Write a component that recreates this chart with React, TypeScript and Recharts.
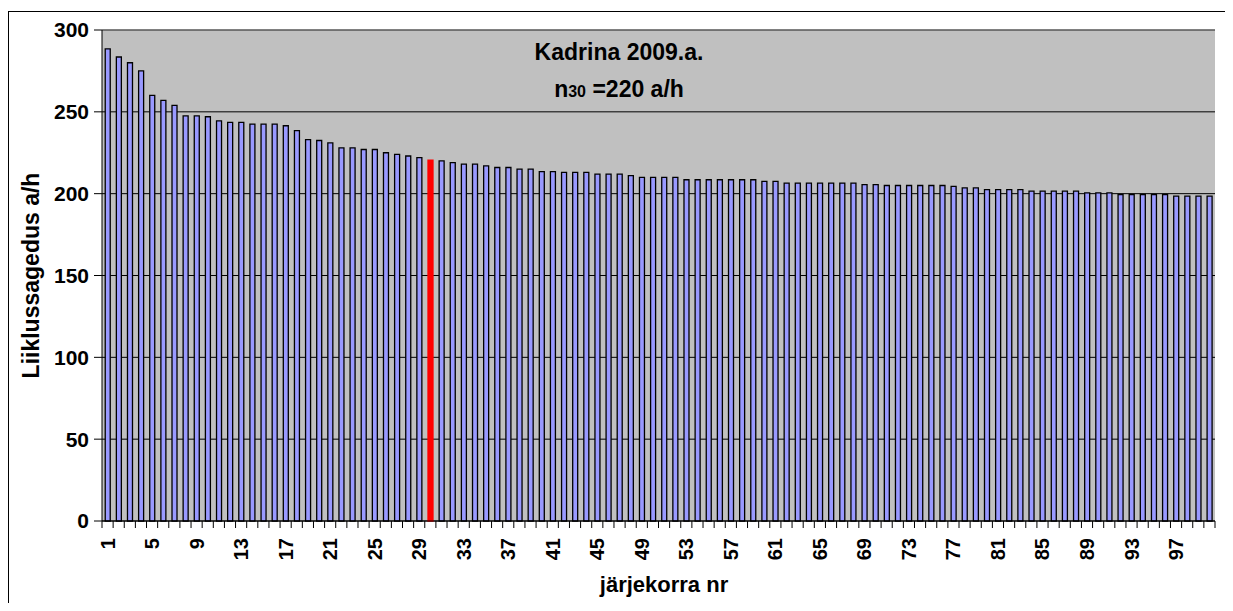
import { BarChart, Bar, Cell, XAxis, YAxis, CartesianGrid, ReferenceLine } from 'recharts';

// järjekorra nr (1..100)
const positions = [
  1, 2, 3, 4, 5, 6, 7, 8, 9, 10, 11, 12, 13, 14, 15, 16, 17, 18, 19, 20,
  21, 22, 23, 24, 25, 26, 27, 28, 29, 30, 31, 32, 33, 34, 35, 36, 37, 38, 39, 40,
  41, 42, 43, 44, 45, 46, 47, 48, 49, 50, 51, 52, 53, 54, 55, 56, 57, 58, 59, 60,
  61, 62, 63, 64, 65, 66, 67, 68, 69, 70, 71, 72, 73, 74, 75, 76, 77, 78, 79, 80,
  81, 82, 83, 84, 85, 86, 87, 88, 89, 90, 91, 92, 93, 94, 95, 96, 97, 98, 99, 100,
];

// Liiklussagedus a/h
const volumes = [
  288.5, 283.5, 280, 275, 260, 257, 254, 247.5, 247.5, 247,
  244.5, 243.5, 243.5, 242.5, 242.5, 242.5, 241.5, 238.5, 233, 232.5,
  231, 228, 228, 227, 227, 225, 224, 223, 222, 220.5,
  220, 219, 218, 218, 217, 216, 216, 215, 215, 213.5,
  213.5, 213, 213, 213, 212, 212, 212, 211, 210, 210,
  210, 210, 208.5, 208.5, 208.5, 208.5, 208.5, 208.5, 208.5, 207.5,
  207.5, 206.5, 206.5, 206.5, 206.5, 206.5, 206.5, 206.5, 205.5, 205.5,
  205, 205, 205, 205, 205, 205, 204.5, 203.5, 203.5, 202.5,
  202.5, 202.5, 202.5, 201.5, 201.5, 201.5, 201.5, 201.5, 200.5, 200.5,
  200.5, 199.5, 199.5, 199.5, 199.5, 199.5, 198.5, 198.5, 198.5, 198.5,
];

const highlighted = 30;
const xTickLabels = [1, 5, 9, 13, 17, 21, 25, 29, 33, 37, 41, 45, 49, 53, 57, 61, 65, 69, 73, 77, 81, 85, 89, 93, 97];
const yTicks = [0, 50, 100, 150, 200, 250, 300];

const data = positions.map((nr, i) => ({ nr, value: volumes[i] }));

const FONT = '"Liberation Sans", Arial, sans-serif';
const W = 1216;
const H = 593;
const margin = { top: 18, right: 10, left: 33, bottom: 14 };
const Y_AXIS_W = 60;
const X_AXIS_H = 70;
const PLOT_LEFT = margin.left + Y_AXIS_W;
const PLOT_RIGHT = W - margin.right;
const PLOT_BOTTOM = H - margin.bottom - X_AXIS_H;
const BAND = (PLOT_RIGHT - PLOT_LEFT) / positions.length;

function XTick(props: any) {
  const { x, payload } = props;
  const v = payload.value;
  const left = x - BAND / 2;
  const lx = x + 7;
  const ly = PLOT_BOTTOM + 17;
  return (
    <g>
      <line x1={left} x2={left} y1={PLOT_BOTTOM} y2={PLOT_BOTTOM + 7} stroke="#000" />
      {v === positions[positions.length - 1] && (
        <line x1={x + BAND / 2} x2={x + BAND / 2} y1={PLOT_BOTTOM} y2={PLOT_BOTTOM + 7} stroke="#000" />
      )}
      {xTickLabels.includes(v) && (
        <text
          x={lx}
          y={ly}
          transform={`rotate(-90, ${lx}, ${ly})`}
          textAnchor="end"
          fontSize={20}
          fontWeight="bold"
          fontFamily={FONT}
          fill="#000"
        >
          {v}
        </text>
      )}
    </g>
  );
}

const XTitle = () => (
  <text x={655} y={580} textAnchor="middle" fontSize={22} fontWeight="bold" fontFamily={FONT} fill="#000">
    järjekorra nr
  </text>
);

const YTitle = () => (
  <text transform={`translate(22, ${(margin.top + PLOT_BOTTOM) / 2}) rotate(-90)`} dy="0.35em" textAnchor="middle" fontSize={23} fontWeight="bold" fontFamily={FONT} fill="#000">
    Liiklussagedus a/h
  </text>
);

const ChartTitle = () => (
  <g fontFamily={FONT} fontWeight="bold" fill="#000" textAnchor="middle">
    <text x={610} y={48} fontSize={23}>Kadrina 2009.a.</text>
    <text x={610} y={85} fontSize={23}>
      n<tspan fontSize={16}>30</tspan> =220 a/h
    </text>
  </g>
);

export default function App() {
  return (
    <div
      style={{
        position: 'relative',
        top: 3,
        width: 1218,
        height: 595,
        border: '1px solid #000',
        boxSizing: 'border-box',
        background: '#fff',
      }}
    >
      <BarChart width={W} height={H} data={data} margin={margin} barCategoryGap="29%">
        <CartesianGrid vertical={false} stroke="#000" fill="#C0C0C0" />
        <XAxis
          dataKey="nr"
          interval={0}
          height={X_AXIS_H}
          tickLine={false}
          axisLine={{ stroke: '#000' }}
          tick={<XTick />}
          label={<XTitle />}
        />
        <YAxis
          domain={[0, 300]}
          ticks={yTicks}
          width={Y_AXIS_W}
          tickSize={8}
          tickMargin={5}
          axisLine={{ stroke: '#000' }}
          tickLine={{ stroke: '#000' }}
          tick={{ fontSize: 21, fontWeight: 'bold', fontFamily: FONT, fill: '#000' }}
          label={<YTitle />}
        />
        <YAxis
          yAxisId="r"
          orientation="right"
          domain={[0, 300]}
          width={0}
          tick={false}
          tickLine={false}
          axisLine={{ stroke: '#808080' }}
        />
        <ReferenceLine y={300} stroke="#808080" label={<ChartTitle />} />
        <Bar dataKey="value" fill="#9999FF" stroke="#000" strokeWidth={1.3} isAnimationActive={false}>
          {data.map((d) => (
            <Cell
              key={d.nr}
              fill={d.nr === highlighted ? '#FF0000' : '#9999FF'}
              stroke={d.nr === highlighted ? '#FF0000' : '#000'}
            />
          ))}
        </Bar>
      </BarChart>
    </div>
  );
}
